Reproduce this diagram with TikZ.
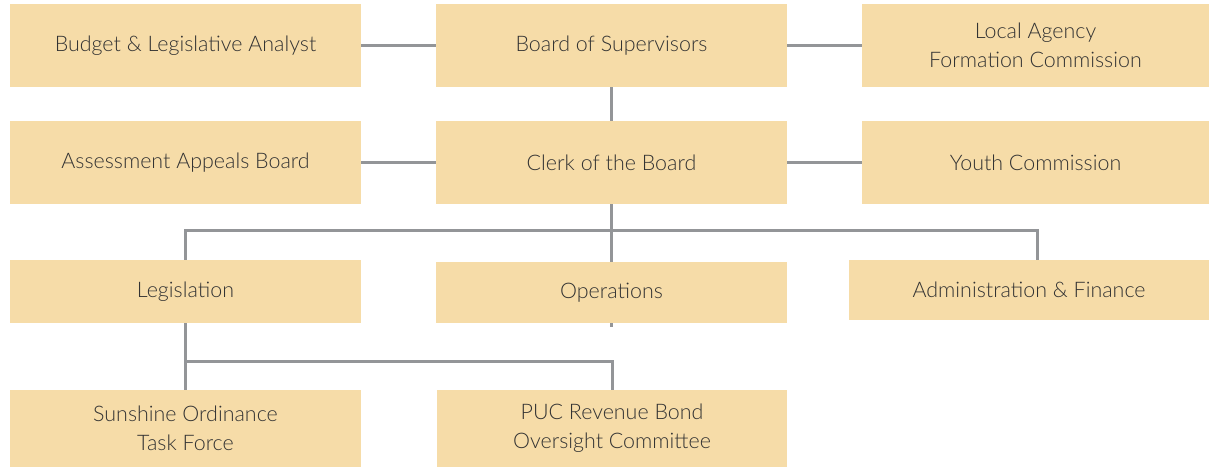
\documentclass[tikz,border=0pt]{standalone}
\usepackage{fontspec}
\setmainfont{Lato Light}
\usepackage{xcolor}
\usepackage{tikz}
\usetikzlibrary{positioning}
\definecolor{boxfill}{HTML}{F6DCA8}
\definecolor{linkgray}{HTML}{939598}
\definecolor{txtgray}{HTML}{333333}
\tikzset{unit/.style={fill=boxfill,text=txtgray,align=center,inner sep=0pt,minimum width=7.02cm,minimum height=1.66cm,font=\fontsize{12.2}{16.6}\selectfont},
link/.style={draw=linkgray,line width=1.7pt}}

\begin{document}
\begin{tikzpicture}[x=0.02cm,y=-0.02cm]
    \useasboundingbox (0,0) rectangle (1209,467);
    \node[unit] (bla)at (185.5,45.5) {Budget \& Legislative Analyst};
    \node[unit] (bos)at (611.5,45.5) {Board of Supervisors};
    \node[unit,minimum width=6.94cm] (lafco)at (1035.5,45.5) {Local Agency\\Formation Commission};
    \node[unit] (aab)at (185.5,162.5) {Assessment Appeals Board};
    \node[unit] (clerk)at (611.5,162.5) {Clerk of the Board};
    \node[unit,minimum width=6.94cm] (youth)at (1035.5,162.5) {Youth Commission};
    \node[unit,minimum height=1.26cm] (legis)at (185.5,291.5) {Legislation};
    \node[unit,minimum height=1.22cm] (ops)at (611.5,292.5) {Operations};
    \node[unit,minimum width=7.2cm,minimum height=1.2cm] (admin)at (1029,290) {Administration \& Finance};
    \node[unit,minimum height=1.54cm] (sotf)at (185.5,428.5) {Sunshine Ordinance\\Task Force};
    \node[unit,minimum height=1.54cm] (puc)at (612,428.5) {PUC Revenue Bond\\Oversight Committee};

    \coordinate (split) at (611.5,230);
    \coordinate (adminjoin) at (1037,260);
    \coordinate (legjoin) at (185.5,361);
    \coordinate (opstail) at (611.5,327);

    \draw [link] (bla) -- (bos);
    \draw [link] (bos) -- (lafco);
    \draw [link] (bos) -- (clerk);
    \draw [link] (aab) -- (clerk);
    \draw [link] (clerk) -- (youth);
    \draw [link] (clerk) -- (split);
    \draw [link] (legis.north) |- (split) -| (adminjoin);
    \draw [link] (split) -- (ops);
    \draw [link] (ops.south) -- (opstail);
    \draw [link] (legis) -- (sotf);
    \draw [link] (legjoin) -| (puc.north);
\end{tikzpicture}
\end{document}
